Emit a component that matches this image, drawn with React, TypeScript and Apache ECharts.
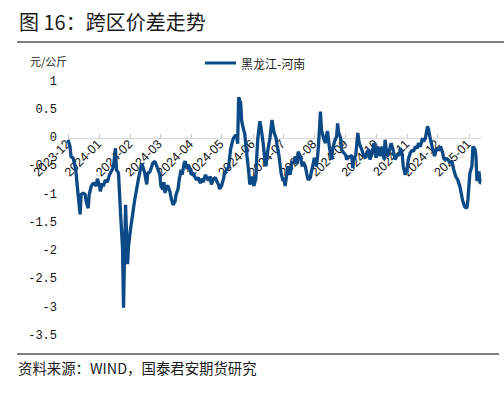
import React, { useEffect, useRef } from "react";
import * as echarts from "echarts";

// Series: 黑龙江-河南 (元/公斤), sampled by day offset from 2023-12-01
const startDate = "2023-12-01";
const lastDayOffset = 409;
const dayOffsets = [
  0, 2, 3, 5, 7, 8, 10, 12, 13, 15, 17, 18, 20, 21, 23, 25, 26, 28, 29, 31,
  32, 34, 35, 37, 39, 41, 42, 44, 45, 47, 48, 50, 52, 54, 55, 57, 59, 60, 62, 64,
  66, 68, 70, 73, 74, 76, 78, 79, 81, 83, 84, 86, 88, 89, 91, 92, 94, 95, 96, 98,
  99, 101, 102, 104, 106, 107, 109, 110, 112, 113, 115, 116, 118, 119, 121, 122, 124, 126, 127, 129,
  131, 132, 134, 136, 137, 139, 141, 142, 144, 146, 147, 149, 150, 152, 154, 155, 157, 159, 161, 163,
  164, 166, 167, 168, 169, 171, 172, 174, 175, 177, 179, 180, 182, 183, 184, 186, 187, 188, 190, 191,
  193, 195, 196, 198, 200, 202, 204, 206, 207, 209, 211, 213, 214, 215, 217, 218, 220, 221, 222, 224,
  225, 227, 228, 230, 232, 233, 235, 237, 238, 240, 241, 243, 244, 246, 247, 248, 250, 251, 253, 255,
  256, 257, 259, 261, 262, 264, 266, 267, 268, 270, 271, 273, 275, 276, 278, 279, 281, 282, 283, 285,
  287, 288, 289, 291, 293, 295, 296, 298, 299, 301, 303, 304, 305, 307, 309, 310, 311, 313, 314, 316,
  317, 318, 320, 322, 323, 324, 326, 328, 329, 331, 332, 334, 336, 337, 339, 341, 342, 344, 346, 347,
  349, 351, 352, 354, 356, 357, 359, 361, 363, 365, 367, 369, 371, 372, 373, 375, 377, 378, 380, 382,
  384, 386, 388, 389, 391, 393, 395, 396, 398, 400, 401, 403, 404, 405, 407, 408, 409,
];
const spreadValues = [
  -0.03, -0.15, -0.33, -0.35, -0.5, -0.62, -1.0, -1.35, -1.0, -0.97, -1.0, -1.12, -1.24, -1.0, -0.85, -0.8, -0.8, -0.85, -0.72, -0.82,
  -0.94, -0.8, -0.85, -0.74, -0.78, -0.65, -0.62, -0.55, -0.5, -0.18, -0.56, -0.62, -1.32, -1.95, -3.0, -1.18, -2.23, -1.9, -1.6, -1.35,
  -1.1, -0.9, -0.7, -0.45, -0.5, -0.62, -0.82, -0.62, -0.6, -0.5, -0.44, -0.41, -0.5, -0.55, -0.65, -0.85, -0.91, -0.78, -0.97, -0.85,
  -0.85, -0.95, -1.05, -1.18, -1.12, -1.0, -0.9, -0.75, -0.56, -0.65, -0.45, -0.41, -0.55, -0.47, -0.55, -0.65, -0.62, -0.7, -0.74, -0.7,
  -0.8, -0.72, -0.78, -0.65, -0.68, -0.75, -0.68, -0.82, -0.72, -0.7, -0.75, -0.82, -0.9, -0.85, -0.72, -0.62, -0.56, -0.52, -0.2, -0.05,
  0.0, 0.05, 0.04, -0.1, 0.72, 0.62, 0.3, 0.14, 0.08, -0.28, -0.6, -0.82, -0.75, -0.68, -0.85, -0.72, -0.3, 0.0, 0.3, 0.2,
  -0.05, -0.4, -0.5, -0.2, 0.0, 0.32, 0.1, 0.0, -0.12, -0.32, -0.62, -0.76, -0.7, -0.85, -0.6, -0.5, -0.65, -0.5, -0.41, -0.45,
  -0.32, -0.45, -0.24, -0.32, -0.5, -0.42, -0.5, -0.68, -0.74, -0.7, -0.6, -0.44, -0.35, -0.5, -0.35, -0.15, 0.47, 0.15, 0.0, -0.09,
  0.05, 0.12, -0.18, -0.38, -0.2, -0.06, 0.03, 0.26, 0.1, 0.0, -0.21, -0.26, -0.3, -0.38, -0.32, -0.35, -0.3, -0.53, -0.4, -0.3,
  0.09, -0.05, -0.12, -0.21, -0.32, -0.35, -0.25, -0.21, -0.38, -0.28, -0.09, -0.2, -0.35, -0.15, -0.32, -0.22, -0.15, -0.38, -0.03, -0.32,
  -0.3, -0.24, -0.09, -0.21, -0.3, -0.38, -0.3, -0.3, -0.18, -0.29, -0.5, -0.65, -0.53, -0.38, -0.26, -0.21, -0.24, -0.15, -0.18, -0.09,
  -0.15, 0.0, -0.06, 0.0, 0.21, 0.15, -0.03, -0.18, -0.32, -0.18, -0.22, -0.15, -0.26, -0.35, -0.38, -0.36, -0.4, -0.44, -0.4, -0.56,
  -0.68, -0.74, -0.85, -0.94, -1.12, -1.22, -1.24, -1.1, -0.62, -0.5, -0.15, -0.2, -0.32, -0.76, -0.59, -0.79, -0.79,
];
const seriesName = "黑龙江-河南";
const yTicks = [1, 0.5, 0, -0.5, -1, -1.5, -2, -2.5, -3, -3.5];
const yMin = -3.5;
const yMax = 1;
const titleText = "图 16：跨区价差走势";
const unitText = "元/公斤";
const sourceText = "资料来源：WIND，国泰君安期货研究";

const gridTop = 81.5;
const gridBottom = 59;
const chartHeight = 395;

function pad(n: number) {
  return n < 10 ? "0" + n : String(n);
}

function buildCategories(): string[] {
  const out: string[] = [];
  const [y, m, d] = startDate.split("-").map(Number);
  for (let i = 0; i <= lastDayOffset; i++) {
    const dt = new Date(Date.UTC(y, m - 1, d + i));
    out.push(`${dt.getUTCFullYear()}-${pad(dt.getUTCMonth() + 1)}-${pad(dt.getUTCDate())}`);
  }
  return out;
}

export default function App() {
  const ref = useRef<HTMLDivElement>(null);
  useEffect(() => {
    if (!ref.current) return;
    const chart = echarts.init(ref.current, undefined, { renderer: "svg" });
    const categories = buildCategories();
    const data: (number | null)[] = categories.map(() => null);
    dayOffsets.forEach((off, i) => {
      data[off] = spreadValues[i];
    });
    // place the category axis on the zero line
    const plotH = chartHeight - gridTop - gridBottom;
    const zeroFromBottom = ((0 - yMin) / (yMax - yMin)) * plotH;
    const isMonthStart = (_i: number, v: string) => v.endsWith("-01");
    chart.setOption({
      animation: false,
      backgroundColor: "#ffffff",
      grid: { left: 68, right: 23, top: gridTop, bottom: gridBottom, containLabel: false },
      legend: {
        left: 205,
        top: 57,
        padding: 0,
        icon: "rect",
        itemWidth: 31,
        itemHeight: 3,
        data: [seriesName],
        textStyle: { fontFamily: "Noto Sans CJK SC", fontSize: 12, color: "#222" },
      },
      xAxis: {
        type: "category",
        data: categories,
        boundaryGap: false,
        offset: -zeroFromBottom,
        axisLine: { onZero: false, lineStyle: { color: "#d9d9d9", width: 1 } },
        axisTick: { inside: true, length: 4, interval: isMonthStart, lineStyle: { color: "#c8c8c8" } },
        axisLabel: {
          interval: isMonthStart,
          rotate: 45,
          margin: 4,
          color: "#111",
          fontFamily: "Liberation Sans",
          fontSize: 12.5,
          formatter: (v: string) => v.slice(0, 7),
        },
        splitLine: { show: false },
      },
      yAxis: {
        type: "value",
        min: yMin,
        max: yMax,
        interval: 0.5,
        axisLine: { show: false },
        axisTick: { show: false },
        splitLine: { show: false },
        axisLabel: {
          margin: 11,
          color: "#111",
          fontFamily: "Liberation Mono",
          fontSize: 12,
          formatter: (v: number) => {
            const t = yTicks.find((x) => Math.abs(x - v) < 1e-9);
            return t === undefined ? "" : String(t);
          },
        },
      },
      graphic: [
        {
          type: "text",
          left: 19,
          top: 11,
          style: { text: titleText, fontFamily: "Noto Sans CJK SC", fontSize: 20, fill: "#1a1a1a" },
        },
        {
          type: "line",
          shape: { x1: 17, y1: 42, x2: 504, y2: 42 },
          style: { stroke: "#000", lineWidth: 1 },
        },
        {
          type: "text",
          left: 30,
          top: 55,
          style: { text: unitText, fontFamily: "Noto Sans CJK SC", fontSize: 11, fill: "#222" },
        },
        {
          type: "line",
          shape: { x1: 17, y1: 354, x2: 499, y2: 354 },
          style: { stroke: "#000", lineWidth: 1 },
        },
        {
          type: "text",
          left: 18,
          top: 360,
          style: { text: sourceText, fontFamily: "Noto Sans CJK SC", fontSize: 14.4, fill: "#1a1a1a" },
        },
      ],
      series: [
        {
          name: seriesName,
          type: "line",
          data,
          connectNulls: true,
          showSymbol: false,
          symbol: "none",
          lineStyle: { color: "#0b4a86", width: 3.3 },
          itemStyle: { color: "#0b4a86" },
        },
      ],
    });
    return () => chart.dispose();
  }, []);
  return (
    <div
      ref={ref}
      style={{ position: "fixed", left: 0, top: 0, width: 504, height: 395 }}
    />
  );
}
